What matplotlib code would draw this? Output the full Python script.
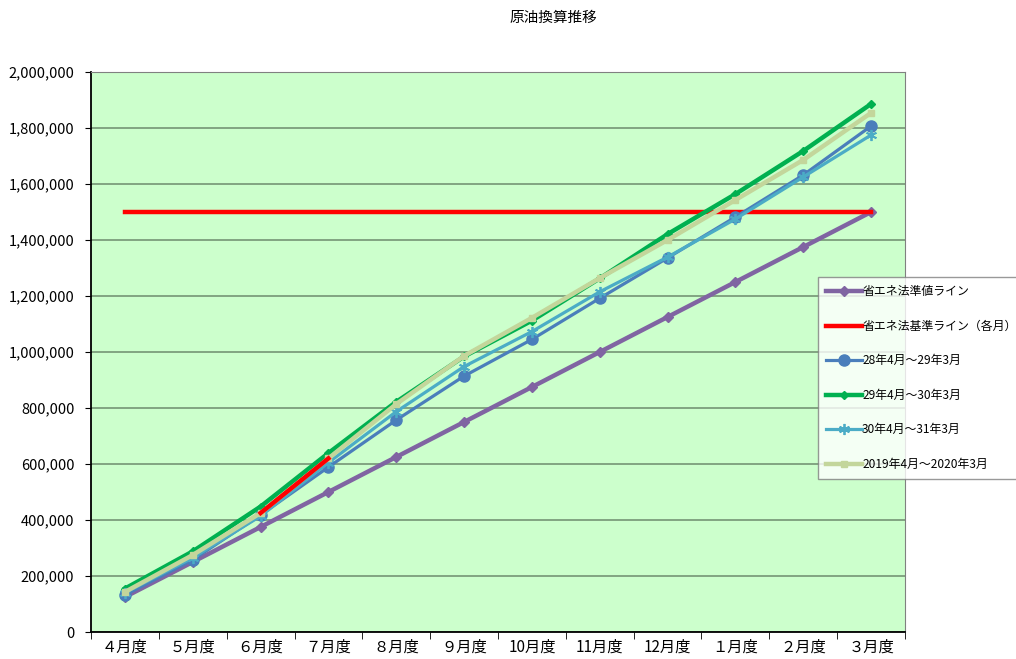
import matplotlib
matplotlib.use("Agg")
import matplotlib.pyplot as plt
from matplotlib.ticker import FuncFormatter, FixedLocator

plt.rcParams['font.family'] = ['Noto Sans CJK JP', 'DejaVu Sans']

# categories and series (cumulative crude-oil equivalent)
months = ["４月度", "５月度", "６月度", "７月度", "８月度", "９月度",
          "10月度", "11月度", "12月度", "１月度", "２月度", "３月度"]
target_line = [125000, 250000, 375000, 500000, 625000, 750000,
               875000, 1000000, 1125000, 1250000, 1375000, 1500000]
base_line = [1500000] * 12
fy28 = [132000, 258000, 418000, 589000, 757000, 914000,
        1045000, 1192000, 1336000, 1482000, 1632000, 1807000]
fy29 = [155000, 288000, 448000, 639000, 822000, 984000,
        1112000, 1263000, 1421000, 1564000, 1718000, 1886000]
fy30 = [140000, 265000, 414000, 605000, 787000, 948000,
        1073000, 1215000, 1339000, 1475000, 1625000, 1775000]
fy2019 = [143000, 275000, 425000, 620000, 814000, 986000,
          1122000, 1264000, 1400000, 1543000, 1686000, 1854000]

labels = ["省エネ法準値ライン", "省エネ法基準ライン（各月）",
          "28年4月～29年3月", "29年4月～30年3月",
          "30年4月～31年3月", "2019年4月～2020年3月"]

W, H = 1016, 659
fig = plt.figure(figsize=(W / 100, H / 100), dpi=100)
ax = fig.add_axes([91 / W, (H - 632) / H, 814 / W, 560 / H])
ax.set_facecolor("#CCFFCC")

x = list(range(len(months)))
ax.plot(x, target_line, color="#8064A2", lw=3.2, marker="D", ms=5.5, label=labels[0], zorder=3)
ax.plot(x, base_line, color="#FF0000", lw=3.2, label=labels[1], zorder=3)
ax.plot(x, fy28, color="#4A7EBB", lw=2.3, marker="o", ms=8, label=labels[2], zorder=3)
ax.plot(x, fy29, color="#00B050", lw=3.2, marker="D", ms=4.5, label=labels[3], zorder=3)
ax.plot(x, fy30, color="#4BACC6", lw=2.3, marker=(6, 2, 0), ms=8, mew=1.3, label=labels[4], zorder=3)
ax.plot(x, fy2019, color="#C3D69B", lw=3.2, marker="s", ms=4.5, label=labels[5], zorder=3)
# 6月度→7月度 segment of the 2019 series is coloured red
ax.plot(x[2:4], fy2019[2:4], color="#FF0000", lw=3.2, zorder=3.5)

ax.set_xlim(-0.5, len(months) - 0.5)
ax.set_ylim(0, 2000000)
ax.set_yticks(range(0, 2000001, 200000))
ax.yaxis.set_major_formatter(FuncFormatter(lambda v, p: f"{int(v):,}"))
ax.grid(axis="y", color="#6E8C6E", lw=1.1)
ax.set_axisbelow(True)

ax.set_xticks(x)
ax.set_xticklabels(months, fontsize=11)
ax.xaxis.set_minor_locator(FixedLocator([i + 0.5 for i in range(-1, len(months))]))
ax.tick_params(axis="x", which="major", length=0, pad=5)
ax.tick_params(axis="x", which="minor", length=5, direction="out", color="black")
ax.tick_params(axis="y", length=4, direction="out", labelsize=10.5, pad=8)

for s in ("top", "right"):
    ax.spines[s].set_color("#808080")
for s in ("left", "bottom"):
    ax.spines[s].set_color("black")
    ax.spines[s].set_linewidth(1.3)

fig.text(553 / W, 1 - 18 / H, "原油換算推移", ha="center", va="center", fontsize=10.5)

leg = fig.legend(loc="upper left", bbox_to_anchor=(818 / W, 1 - 277 / H),
                 fontsize=8.6, frameon=True, fancybox=False, edgecolor="#808080",
                 handlelength=3.0, handletextpad=0.0, labelspacing=1.8,
                 borderpad=0.7, borderaxespad=0)
leg.get_frame().set_linewidth(1.0)

fig.savefig("out.png", dpi=100)
